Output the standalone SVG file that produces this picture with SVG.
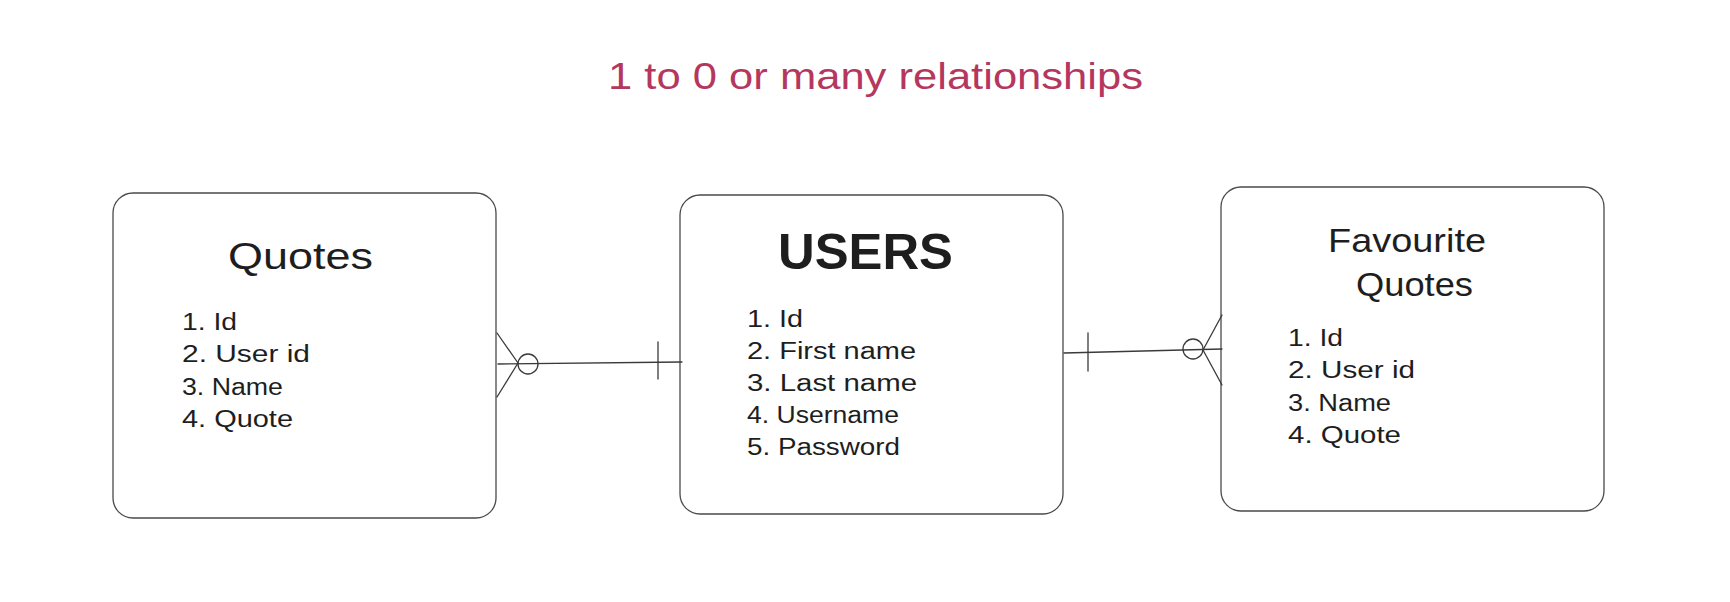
<svg xmlns="http://www.w3.org/2000/svg" width="1730" height="602" viewBox="0 0 1730 602">
<style>
.box{fill:#fff;stroke:#4a4a4a;stroke-width:1.3}
.t{font-family:"Liberation Sans",Arial,sans-serif;fill:#1e1e1e}
.h{font-size:36px}
.i{font-size:23px}
.c{fill:none;stroke:#3a3a3a;stroke-width:1.3;stroke-linecap:round;stroke-linejoin:round}
</style>
<rect width="1730" height="602" fill="#fff"/>
<text id="title" x="608" y="89" class="t" font-size="36" style="fill:#b5375e" textLength="535" lengthAdjust="spacingAndGlyphs">1 to 0 or many relationships</text>
<g id="quotes">
<rect class="box" x="113" y="193" width="383" height="325" rx="20"/>
<text class="t h" x="228" y="269" textLength="145" lengthAdjust="spacingAndGlyphs">Quotes</text>
<text class="t i" x="182" y="330" textLength="55" lengthAdjust="spacingAndGlyphs">1. Id</text>
<text class="t i" x="182" y="362" textLength="128" lengthAdjust="spacingAndGlyphs">2. User id</text>
<text class="t i" x="182" y="395" textLength="101" lengthAdjust="spacingAndGlyphs">3. Name</text>
<text class="t i" x="182" y="427" textLength="111" lengthAdjust="spacingAndGlyphs">4. Quote</text>
</g>
<g id="users">
<rect class="box" x="680" y="195" width="383" height="319" rx="20"/>
<text class="t" font-size="50" font-weight="bold" x="778" y="269" textLength="175" lengthAdjust="spacingAndGlyphs">USERS</text>
<text class="t i" x="747" y="327" textLength="56" lengthAdjust="spacingAndGlyphs">1. Id</text>
<text class="t i" x="747" y="359" textLength="169" lengthAdjust="spacingAndGlyphs">2. First name</text>
<text class="t i" x="747" y="391" textLength="170" lengthAdjust="spacingAndGlyphs">3. Last name</text>
<text class="t i" x="747" y="423" textLength="152" lengthAdjust="spacingAndGlyphs">4. Username</text>
<text class="t i" x="747" y="455" textLength="153" lengthAdjust="spacingAndGlyphs">5. Password</text>
</g>
<g id="favourite-quotes">
<rect class="box" x="1221" y="187" width="383" height="324" rx="20"/>
<text class="t" font-size="33" x="1328" y="252" textLength="158" lengthAdjust="spacingAndGlyphs">Favourite</text>
<text class="t" font-size="33" x="1356" y="296" textLength="117" lengthAdjust="spacingAndGlyphs">Quotes</text>
<text class="t i" x="1288" y="346" textLength="55" lengthAdjust="spacingAndGlyphs">1. Id</text>
<text class="t i" x="1288" y="378" textLength="127" lengthAdjust="spacingAndGlyphs">2. User id</text>
<text class="t i" x="1288" y="411" textLength="103" lengthAdjust="spacingAndGlyphs">3. Name</text>
<text class="t i" x="1288" y="443" textLength="113" lengthAdjust="spacingAndGlyphs">4. Quote</text>
</g>
<g id="connectors">
<path class="c" d="M498 364 L682 362"/>
<path class="c" d="M497 333 L518 363 L497 397"/>
<circle class="c" cx="528" cy="364" r="10"/>
<path class="c" d="M658 342 L658 379"/>
<path class="c" d="M1064 353 L1222 349"/>
<path class="c" d="M1088 333 L1088 371"/>
<circle class="c" cx="1193" cy="349" r="10"/>
<path class="c" d="M1222 315 L1203 350 L1222 385"/>
</g>
</svg>
